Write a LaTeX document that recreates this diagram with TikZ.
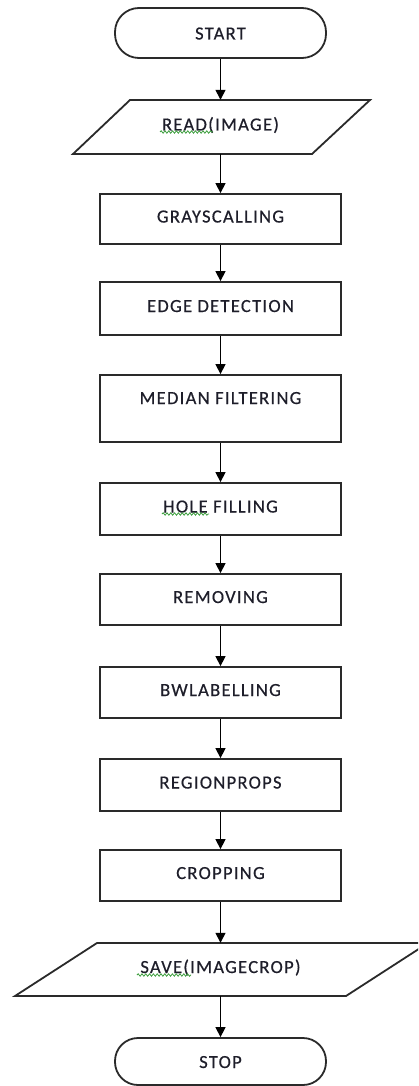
\documentclass[tikz,border=0pt]{standalone}
\usepackage{fontspec}
\setmainfont{Carlito}[LetterSpace=7,FakeBold=0.5]
\usetikzlibrary{arrows.meta,decorations.pathmorphing}
\definecolor{edgecol}{HTML}{2A2A2A}
\definecolor{txtcol}{HTML}{1E1E2A}
\definecolor{squig}{HTML}{3FA040}
\tikzset{
  every node/.style={font=\fontsize{18.5}{21}\selectfont, text=txtcol},
  procbox/.style={draw=edgecol, line width=1.8pt, rectangle, minimum width=241pt, inner sep=0pt, text height=13pt, text depth=6pt},
  termbox/.style={draw=edgecol, line width=1.8pt, rectangle, rounded corners=24pt, minimum width=211pt, inner sep=0pt, text height=13pt, text depth=0pt},
  iobox/.style={rectangle, minimum width=200pt, inner sep=0pt, text height=13pt, text depth=6pt},
  ioshape/.style={draw=edgecol, line width=1.8pt, line join=miter},
  arr/.style={draw=black, line width=1.4pt, -{Triangle[length=10pt,width=10pt]}},
  squiggle/.style={draw=squig, line width=0.8pt, decorate, decoration={snake, amplitude=1.2pt, segment length=3.8pt}}
}
\begin{document}
\begin{tikzpicture}[x=1pt,y=-1pt]
\useasboundingbox (0,0) rectangle (418,1086);
\clip (0,0) rectangle (418,1086);
% parallelograms
\draw[ioshape] (130,100) -- (370,100) -- (312,154) -- (73,154) -- cycle;
\draw[ioshape] (97,943) -- (428,943) -- (346,996) -- (15,996) -- cycle;
% nodes
\node[termbox, minimum height=50pt] (start) at (220.5,33) {START};
\node[iobox, minimum height=54pt] (read) at (220.5,127) {READ(IMAGE)};
\node[procbox, minimum height=50pt] (gray) at (220.5,219) {GRAYSCALLING};
\node[procbox, minimum height=53pt] (edge) at (220.5,308.5) {EDGE DETECTION};
\node[procbox, minimum height=67pt, text depth=22pt] (median) at (220.5,408.5) {MEDIAN FILTERING};
\node[procbox, minimum height=52pt] (hole) at (220.5,509) {HOLE FILLING};
\node[procbox, minimum height=51pt] (remove) at (220.5,599.5) {REMOVING};
\node[procbox, minimum height=51pt] (bwl) at (220.5,692.5) {BWLABELLING};
\node[procbox, minimum height=52pt] (region) at (220.5,785) {REGIONPROPS};
\node[procbox, minimum height=51pt] (crop) at (220.5,875.5) {CROPPING};
\node[iobox, minimum height=53pt] (save) at (220.5,969.5) {SAVE(IMAGECROP)};
\node[termbox, minimum height=47pt, rounded corners=23pt] (stop) at (220.5,1061.5) {STOP};
% connectors
\draw[arr] (start) -- (read);
\draw[arr] (read) -- (gray);
\draw[arr] (gray) -- (edge);
\draw[arr] (edge) -- (median);
\draw[arr] (median) -- (hole);
\draw[arr] (hole) -- (remove);
\draw[arr] (remove) -- (bwl);
\draw[arr] (bwl) -- (region);
\draw[arr] (region) -- (crop);
\draw[arr] (crop) -- (save);
\draw[arr] (save) -- (stop);
% spell-check squiggles
\draw[squiggle] (160,132) -- (213,132);
\draw[squiggle] (162,514) -- (209,514);
\draw[squiggle] (137,975) -- (191,975);
\end{tikzpicture}
\end{document}
